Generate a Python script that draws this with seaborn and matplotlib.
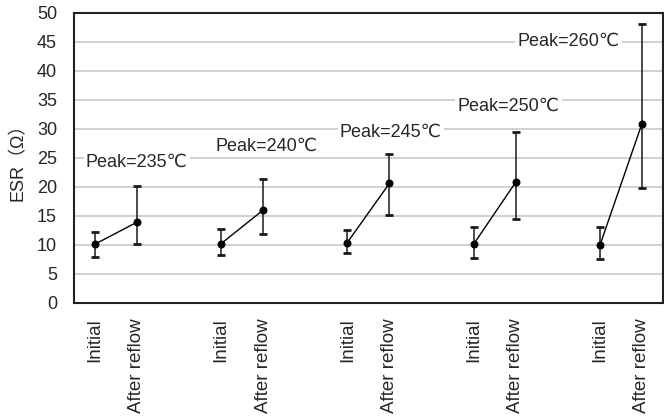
import numpy as np
import pandas as pd
import matplotlib
matplotlib.use('Agg')
import matplotlib.pyplot as plt
import seaborn as sns

# ---- data ----
peaks = ['235', '240', '245', '250', '260']
stages = ['Initial', 'After reflow']
esr_mean = [[10.1, 13.9], [10.2, 16.0], [10.4, 20.6], [10.1, 20.8], [9.9, 30.9]]
esr_upper = [[12.2, 20.1], [12.8, 21.4], [12.5, 25.6], [13.0, 29.4], [13.0, 48.0]]
esr_lower = [[7.9, 10.2], [8.2, 11.8], [8.6, 15.1], [7.8, 14.5], [7.5, 19.8]]
label_x = [1.0, 4.08, 7.03, 9.83, 11.26]
label_y = [24.2, 27.0, 29.4, 33.9, 45.1]

sns.set_style('white')
plt.rcParams['font.family'] = ['Liberation Sans', 'DejaVu Sans', 'Noto Sans CJK JP']

# category slots: Initial, After reflow, (gap), Initial, After reflow, ...
rows = []
for g, p in enumerate(peaks):
    for s, st in enumerate(stages):
        rows.append({'group': p, 'stage': st, 'x': g * 3 + s,
                     'esr': esr_mean[g][s], 'hi': esr_upper[g][s], 'lo': esr_lower[g][s]})
df = pd.DataFrame(rows)

fig = plt.figure(figsize=(6.64, 4.16), dpi=100)
ax = fig.add_axes([0.111, 0.272, 0.8875, 0.697])

ax.errorbar(df['x'], df['esr'], yerr=[df['esr'] - df['lo'], df['hi'] - df['esr']],
            fmt='none', ecolor='#1a1a1a', elinewidth=1.1, capsize=3, capthick=2, zorder=2)
sns.lineplot(data=df, x='x', y='esr', units='group', estimator=None, color='black',
             marker='o', markersize=5, markeredgecolor='black', linewidth=1.0, ax=ax, zorder=3)

for g, p in enumerate(peaks):
    ax.text(label_x[g], label_y[g], f'Peak={p}\u2103', ha='center', va='center', fontsize=13,
            bbox=dict(facecolor='white', edgecolor='none', pad=1.5), zorder=4)

ax.set_xlim(-0.5, 13.5)
ax.set_ylim(0, 50)
ax.set_yticks(np.arange(0, 51, 5))
ax.yaxis.grid(True, color='#c8c8c8', linewidth=1.2)
ax.set_axisbelow(True)

ax.set_xticks(df['x'])
ax.set_xticklabels(df['stage'], rotation=90, va='top', ha='center', fontsize=13.5)
ax.set_xticks(np.arange(0.5, 13, 1), minor=True)
ax.tick_params(axis='x', which='major', length=0, pad=11)
ax.tick_params(axis='x', which='minor', direction='in', length=6, width=1, color='#222222')
ax.tick_params(axis='y', direction='in', length=6, width=1, labelsize=13, pad=12,
               color='#222222')
ax.set_xlabel('')
ax.set_ylabel('ESR\uff08\u03a9\uff09', fontsize=13, labelpad=7)

for sp in ax.spines.values():
    sp.set_visible(True)
    sp.set_color('#222222')
    sp.set_linewidth(1.5)

fig.savefig('out.png', dpi=100)
